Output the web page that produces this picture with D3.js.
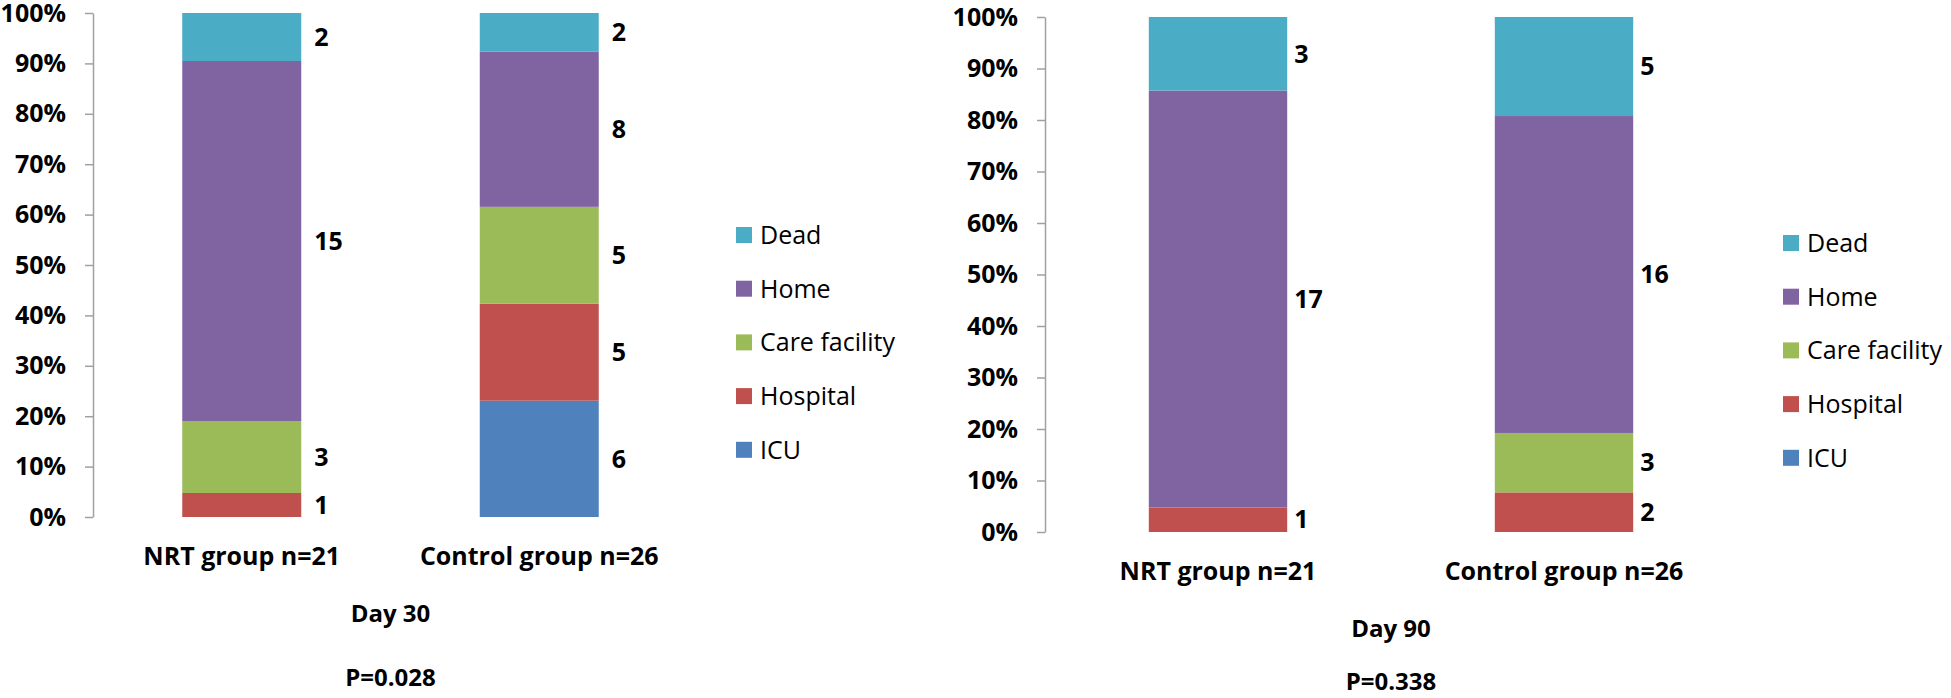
<!DOCTYPE html>
<html>
<head>
<meta charset="utf-8">
<script src="https://cdn.jsdelivr.net/npm/d3@7"></script>
<style>
  html, body { margin: 0; padding: 0; background: #fff; }
  svg { display: block; }
  text { font-family: "Open Sans", "Liberation Sans", sans-serif; fill: #000; }
</style>
</head>
<body>
<svg id="chart" width="1951" height="698"></svg>
<script>
// ---- data ----
const groups = ["NRT group n=21", "Control group n=26"];
const categories = ["ICU", "Hospital", "Care facility", "Home", "Dead"]; // stacking order, bottom to top
const legendOrder = ["Dead", "Home", "Care facility", "Hospital", "ICU"];
const day30NRT = [0, 1, 3, 15, 2];
const day30Control = [6, 5, 5, 8, 2];
const day90NRT = [0, 1, 0, 17, 3];
const day90Control = [0, 2, 3, 16, 5];
const yTicks = [0, 0.1, 0.2, 0.3, 0.4, 0.5, 0.6, 0.7, 0.8, 0.9, 1.0];
const panelTitles = ["Day 30", "Day 90"];
const pValues = ["P=0.028", "P=0.338"];

// ---- styles ----
const colors = {
  "ICU": "#4f81bd",
  "Hospital": "#c0504d",
  "Care facility": "#9bbb59",
  "Home": "#8064a2",
  "Dead": "#4bacc6"
};

function rows(nrt, ctrl) {
  return [nrt, ctrl].map((vals, i) => {
    const r = { group: groups[i] };
    categories.forEach((c, j) => r[c] = vals[j]);
    return r;
  });
}

const panels = [
  { data: rows(day30NRT, day30Control), title: panelTitles[0], p: pValues[0],
    x0: 93, x1: 688, yTop: 13, yBot: 517, legendX: 736, legendY: 235, legendStep: 53.7, labelDx: 13,
    titleDy: 105, pDy: 169 },
  { data: rows(day90NRT, day90Control), title: panelTitles[1], p: pValues[1],
    x0: 1045, x1: 1737, yTop: 17, yBot: 532, legendX: 1783, legendY: 243, legendStep: 53.7, labelDx: 7,
    titleDy: 105, pDy: 158 }
];

const svg = d3.select("#chart");
const stack = d3.stack().keys(categories).offset(d3.stackOffsetExpand);
const color = d3.scaleOrdinal().domain(categories).range(categories.map(c => colors[c]));

panels.forEach(P => {
  const g = svg.append("g");
  const x = d3.scaleBand().domain(groups).range([P.x0, P.x1]).paddingInner(0.6).paddingOuter(0.3);
  const y = d3.scaleLinear().domain([0, 1]).range([P.yBot, P.yTop]);

  // y axis
  const ax = g.append("g")
    .attr("transform", `translate(${P.x0},0)`)
    .call(d3.axisLeft(y).tickValues(yTicks).tickFormat(d3.format(".0%")).tickSize(8).tickSizeOuter(0).tickPadding(19));
  ax.select(".domain").attr("stroke", "#a0a0a0").attr("stroke-width", 1.5);
  ax.selectAll(".tick line").attr("stroke", "#a0a0a0").attr("stroke-width", 1.5);
  ax.selectAll(".tick text")
    .attr("font-family", "'Open Sans', sans-serif")
    .attr("font-size", 25).attr("font-weight", "bold").attr("fill", "#000");

  // stacked bars
  const series = stack(P.data);
  const layer = g.selectAll(".layer").data(series).join("g")
    .attr("class", "layer").attr("fill", d => color(d.key));
  layer.selectAll("rect").data(d => d.map(v => Object.assign(v, { key: d.key })))
    .join("rect")
    .attr("x", d => x(d.data.group))
    .attr("width", x.bandwidth())
    .attr("y", d => y(d[1]))
    .attr("height", d => y(d[0]) - y(d[1]));

  // value labels
  series.forEach(s => {
    s.forEach(d => {
      const v = d.data[s.key];
      if (!v) return;
      g.append("text")
        .attr("x", x(d.data.group) + x.bandwidth() + P.labelDx)
        .attr("y", y((d[0] + d[1]) / 2))
        .attr("dy", "0.35em")
        .attr("font-size", 25).attr("font-weight", "bold")
        .text(v);
    });
  });

  // category labels
  g.selectAll(".cat").data(groups).join("text")
    .attr("class", "cat")
    .attr("x", d => x(d) + x.bandwidth() / 2)
    .attr("y", P.yBot + 48)
    .attr("text-anchor", "middle")
    .attr("font-size", 25).attr("font-weight", "bold")
    .text(d => d);

  const cx = (P.x0 + P.x1) / 2;
  g.append("text").attr("x", cx).attr("y", P.yBot + P.titleDy)
    .attr("text-anchor", "middle").attr("font-size", 24).attr("font-weight", "bold").text(P.title);
  g.append("text").attr("x", cx).attr("y", P.yBot + P.pDy)
    .attr("text-anchor", "middle").attr("font-size", 24).attr("font-weight", "bold").text(P.p);

  // legend
  const lg = g.selectAll(".leg").data(legendOrder).join("g")
    .attr("class", "leg")
    .attr("transform", (d, i) => `translate(${P.legendX},${P.legendY + i * P.legendStep})`);
  lg.append("rect").attr("x", 0).attr("y", -8).attr("width", 16).attr("height", 16).attr("fill", d => color(d));
  lg.append("text").attr("x", 24).attr("y", 0).attr("dy", "0.36em")
    .attr("font-size", 25).text(d => d);
});
</script>
</body>
</html>
